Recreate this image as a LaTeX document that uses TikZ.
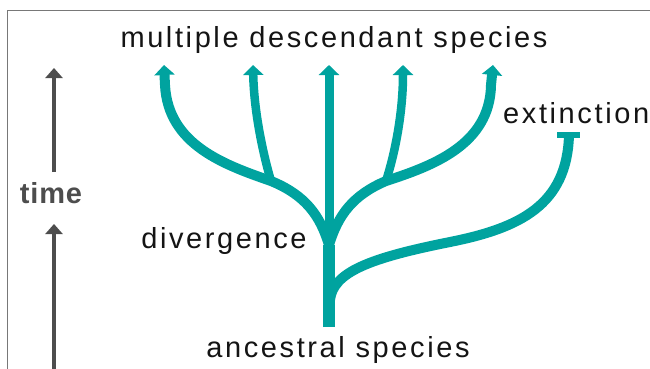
\documentclass[tikz,border=0pt]{standalone}
\usepackage{fontspec}
\setmainfont{Liberation Sans}[LetterSpace=9]
\newfontfamily\timefont{Liberation Sans}[LetterSpace=3]
\usetikzlibrary{arrows.meta}
\definecolor{teal1}{RGB}{0,163,159}
\definecolor{greyarrow}{RGB}{77,77,77}
\definecolor{framegrey}{RGB}{120,120,120}
\definecolor{ink}{RGB}{20,20,20}
\tikzset{
  branch/.style={draw=teal1, line width=9pt},
  tipped/.style={-{Triangle[width=20pt,length=10pt]}},
  txt/.style={font=\fontsize{29}{32}\selectfont, text=ink, inner sep=0pt, anchor=base},
  timearrow/.style={draw=greyarrow, line width=4.5pt, -{Triangle[width=17pt,length=10pt]}},
}
\begin{document}
\begin{tikzpicture}[x=1pt,y=-1pt]
\useasboundingbox (0,0) rectangle (650,369);
% frame
\draw[framegrey, line width=1pt] (7.5,369) -- (7.5,11) -- (650,11);
% time axis
\coordinate (A1s) at (54,172);
\coordinate (A1e) at (54,68);
\coordinate (A2s) at (54,369);
\coordinate (A2e) at (54,224);
\draw[timearrow] (A1s) -- (A1e);
\draw[timearrow] (A2s) -- (A2e);
\node[txt, text=greyarrow, font=\timefont\fontsize{29}{32}\selectfont\bfseries] (time) at (51,203) {time};
% tree coordinates
\coordinate (B) at (329,327);
\coordinate (J) at (329,245);
\coordinate (JL) at (271,181);
\coordinate (JR) at (386,181);
\coordinate (T1) at (164,65);
\coordinate (T2) at (253,65);
\coordinate (T3) at (329,65);
\coordinate (T4) at (403,65);
\coordinate (T5) at (493,65);
\coordinate (X) at (330,300);
\coordinate (E) at (569,135);
\coordinate (EL) at (557,135);
\coordinate (ER) at (580,135);
% trunk
\draw[teal1, line width=12pt] (B) -- (J);
\draw[branch, tipped] (J) -- (T3);
% left branches
\draw[branch, line width=10pt, tipped] (J) .. controls (320,215) and (305,195) .. (JL)
      .. controls (225,165) and (168,145) .. (165,85) -- (T1);
\draw[branch, line width=8.5pt, tipped] (JL) .. controls (262,150) and (254,110) .. (T2);
% right branches
\draw[branch, line width=10pt, tipped] (J) .. controls (338,215) and (353,195) .. (JR)
      .. controls (432,166) and (490,145) .. (491,85) -- (T5);
\draw[branch, line width=8.5pt, tipped] (JR) .. controls (396,150) and (403,110) .. (T4);
% extinct branch
\draw[branch, line width=10pt] (X) .. controls (333,272) and (370,258) .. (450,242)
      .. controls (520,228) and (567,205) .. (E);
\draw[teal1, line width=6pt] (EL) -- (ER);
% labels
\node[txt] (top) at (334,47.5) {multiple descendant species};
\node[txt] (anc) at (338,357) {ancestral species};
\node[txt] (div) at (224,248) {divergence};
\node[txt, anchor=base west] (ext) at (503,123) {extinction};
\end{tikzpicture}
\end{document}
